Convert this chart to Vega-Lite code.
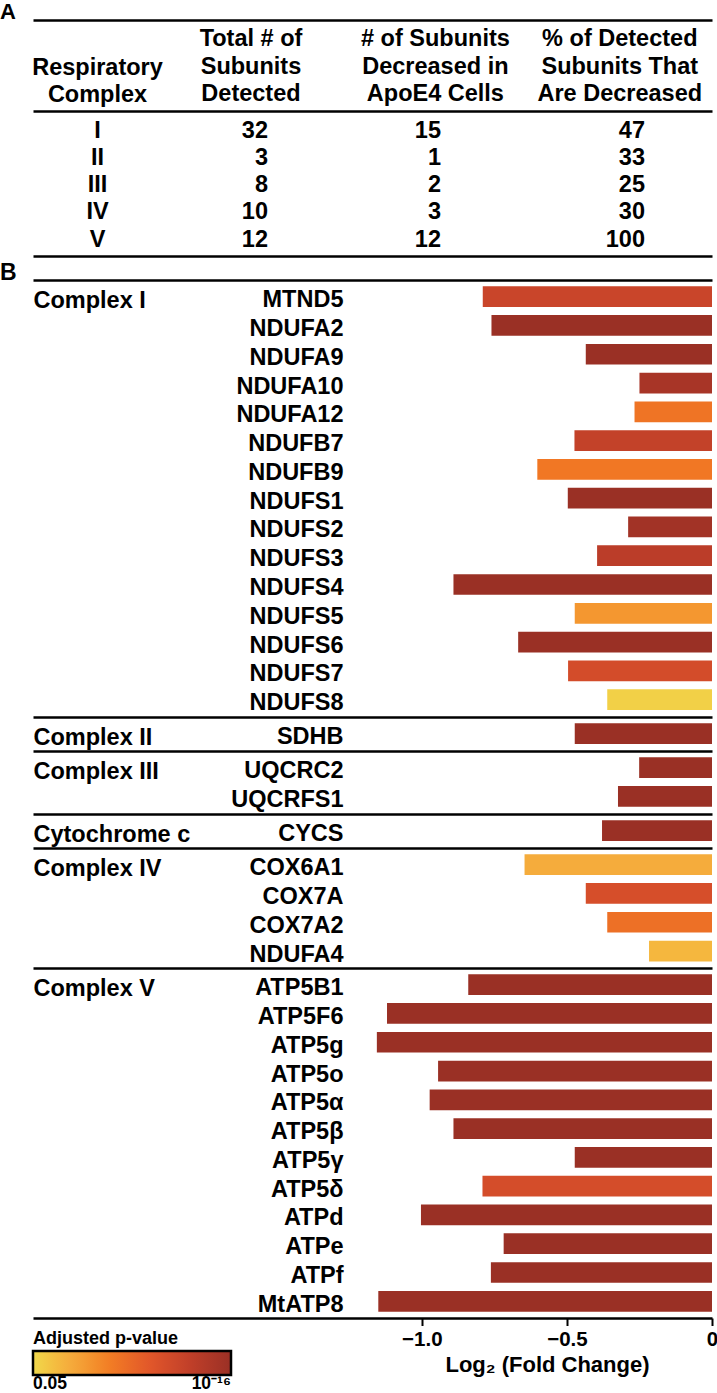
{
  "$schema": "https://vega.github.io/schema/vega-lite/v6.json",
  "background": "white",
  "padding": {"left": 0, "top": 1, "right": 0, "bottom": 0},
  "config": {
    "font": "Liberation Sans",
    "view": {"stroke": null},
    "axis": {"grid": false, "labelFont": "Liberation Sans", "titleFont": "Liberation Sans", "labelFontWeight": "bold", "titleFontWeight": "bold", "labelColor": "black", "titleColor": "black", "domainColor": "black", "tickColor": "black"}
  },
  "datasets": {
    "headers": [
      {"col": "total", "header": "Total # of\nSubunits\nDetected"},
      {"col": "decreased", "header": "# of Subunits\nDecreased in\nApoE4 Cells"},
      {"col": "percent", "header": "% of Detected\nSubunits That\nAre Decreased"}
    ],
    "table": [
      {"complex": "I", "total": "32", "decreased": "15", "percent": "47"},
      {"complex": "II", "total": "3", "decreased": "1", "percent": "33"},
      {"complex": "III", "total": "8", "decreased": "2", "percent": "25"},
      {"complex": "IV", "total": "10", "decreased": "3", "percent": "30"},
      {"complex": "V", "total": "12", "decreased": "12", "percent": "100"}
    ],
    "genes": [
      {"complex": "Complex I", "gene": "MTND5", "lfc": -0.79, "nlp": 12.2},
      {"complex": "Complex I", "gene": "NDUFA2", "lfc": -0.76, "nlp": 16},
      {"complex": "Complex I", "gene": "NDUFA9", "lfc": -0.435, "nlp": 16},
      {"complex": "Complex I", "gene": "NDUFA10", "lfc": -0.25, "nlp": 14.9},
      {"complex": "Complex I", "gene": "NDUFA12", "lfc": -0.267, "nlp": 7.7},
      {"complex": "Complex I", "gene": "NDUFB7", "lfc": -0.474, "nlp": 12.7},
      {"complex": "Complex I", "gene": "NDUFB9", "lfc": -0.602, "nlp": 7.4},
      {"complex": "Complex I", "gene": "NDUFS1", "lfc": -0.497, "nlp": 16},
      {"complex": "Complex I", "gene": "NDUFS2", "lfc": -0.289, "nlp": 15.4},
      {"complex": "Complex I", "gene": "NDUFS3", "lfc": -0.396, "nlp": 13.4},
      {"complex": "Complex I", "gene": "NDUFS4", "lfc": -0.891, "nlp": 16},
      {"complex": "Complex I", "gene": "NDUFS5", "lfc": -0.473, "nlp": 5.4},
      {"complex": "Complex I", "gene": "NDUFS6", "lfc": -0.668, "nlp": 16},
      {"complex": "Complex I", "gene": "NDUFS7", "lfc": -0.496, "nlp": 11.3},
      {"complex": "Complex I", "gene": "NDUFS8", "lfc": -0.361, "nlp": 1.8},
      {"complex": "Complex II", "gene": "SDHB", "lfc": -0.473, "nlp": 16},
      {"complex": "Complex III", "gene": "UQCRC2", "lfc": -0.251, "nlp": 16},
      {"complex": "Complex III", "gene": "UQCRFS1", "lfc": -0.324, "nlp": 16},
      {"complex": "Cytochrome c", "gene": "CYCS", "lfc": -0.379, "nlp": 16},
      {"complex": "Complex IV", "gene": "COX6A1", "lfc": -0.646, "nlp": 4.0},
      {"complex": "Complex IV", "gene": "COX7A", "lfc": -0.435, "nlp": 11.0},
      {"complex": "Complex IV", "gene": "COX7A2", "lfc": -0.361, "nlp": 8.0},
      {"complex": "Complex IV", "gene": "NDUFA4", "lfc": -0.217, "nlp": 3.3},
      {"complex": "Complex V", "gene": "ATP5B1", "lfc": -0.84, "nlp": 16},
      {"complex": "Complex V", "gene": "ATP5F6", "lfc": -1.12, "nlp": 16},
      {"complex": "Complex V", "gene": "ATP5g", "lfc": -1.155, "nlp": 16},
      {"complex": "Complex V", "gene": "ATP5o", "lfc": -0.944, "nlp": 16},
      {"complex": "Complex V", "gene": "ATP5α", "lfc": -0.973, "nlp": 16},
      {"complex": "Complex V", "gene": "ATP5β", "lfc": -0.891, "nlp": 16},
      {"complex": "Complex V", "gene": "ATP5γ", "lfc": -0.473, "nlp": 16},
      {"complex": "Complex V", "gene": "ATP5δ", "lfc": -0.791, "nlp": 11.2},
      {"complex": "Complex V", "gene": "ATPd", "lfc": -1.003, "nlp": 16},
      {"complex": "Complex V", "gene": "ATPe", "lfc": -0.718, "nlp": 16},
      {"complex": "Complex V", "gene": "ATPf", "lfc": -0.762, "nlp": 16},
      {"complex": "Complex V", "gene": "MtATP8", "lfc": -1.15, "nlp": 16}
    ]
  },
  "resolve": {"scale": {"x": "independent", "y": "independent", "color": "independent"}, "legend": {"color": "independent"}, "axis": {"x": "independent", "y": "independent"}},
  "spacing": 0,
  "bounds": "flush",
  "vconcat": [
    {
      "width": 679, "height": 0.01,
      "data": {"values": [{"letter": "A"}]},
      "mark": {"type": "text", "font": "Liberation Sans", "fontWeight": "bold", "fontSize": 22, "baseline": "alphabetic", "align": "left", "color": "black", "dx": -33, "dy": -1},
      "encoding": {
        "x": {"datum": -2.34, "type": "quantitative", "scale": {"domain": [-2.34, 0], "nice": false}, "axis": {"orient": "bottom", "labels": false, "ticks": false, "domain": true, "domainWidth": 2.5, "title": null}},
        "text": {"field": "letter", "type": "nominal"}
      }
    },
    {
      "width": 679, "height": 90,
      "data": {"name": "headers"},
      "mark": {"type": "text", "font": "Liberation Sans", "fontWeight": "bold", "fontSize": 23.5, "lineHeight": 27.5, "lineBreak": "\n", "baseline": "alphabetic", "align": "center", "color": "black", "dy": -19.7},
      "encoding": {
        "x": {"field": "col", "type": "nominal", "sort": null, "scale": {"type": "band", "domain": ["total", "decreased", "percent"], "paddingInner": 0, "paddingOuter": 0.341, "align": 1}, "axis": null},
        "text": {"field": "header", "type": "nominal"}
      }
    },
    {
      "width": 679, "height": {"step": 27.23},
      "data": {"name": "table"},
      "encoding": {
        "y": {"field": "complex", "type": "nominal", "sort": null, "scale": {"type": "band", "paddingInner": 0, "paddingOuter": 0.15},
          "axis": {"orient": "left", "offset": -64, "domain": false, "ticks": false, "tickSize": 0, "labelPadding": 0, "labelAlign": "center", "labelBaseline": "middle", "labelOffset": 2, "labelFontSize": 23.5,
            "title": ["Respiratory", "Complex"], "titleAngle": 0, "titleAlign": "center", "titleBaseline": "alphabetic", "titleX": 0, "titleY": -36.7, "titleFontSize": 23.5, "titleLineHeight": 27.5}}
      },
      "layer": [
        {
          "mark": {"type": "text", "font": "Liberation Sans", "fontWeight": "bold", "fontSize": 23.5, "baseline": "middle", "align": "right", "color": "black", "dx": 17, "dy": 2},
          "encoding": {
            "x": {"datum": "total", "type": "nominal", "scale": {"type": "band", "domain": ["total", "decreased", "percent"], "paddingInner": 0, "paddingOuter": 0.341, "align": 1}, "axis": {"orient": "top", "labels": false, "ticks": false, "domain": true, "domainWidth": 2.5, "title": null}},
            "text": {"field": "total", "type": "nominal"}
          }
        },
        {
          "mark": {"type": "text", "font": "Liberation Sans", "fontWeight": "bold", "fontSize": 23.5, "baseline": "middle", "align": "right", "color": "black", "dx": 5.6, "dy": 2},
          "encoding": {
            "x": {"datum": "decreased", "type": "nominal"},
            "text": {"field": "decreased", "type": "nominal"}
          }
        },
        {
          "mark": {"type": "text", "font": "Liberation Sans", "fontWeight": "bold", "fontSize": 23.5, "baseline": "middle", "align": "right", "color": "black", "dx": 25.2, "dy": 2},
          "encoding": {
            "x": {"datum": "percent", "type": "nominal"},
            "text": {"field": "percent", "type": "nominal"}
          }
        }
      ]
    },
    {
      "width": 679, "height": 24,
      "data": {"values": [{"letter": "B"}]},
      "mark": {"type": "text", "font": "Liberation Sans", "fontWeight": "bold", "fontSize": 23, "baseline": "alphabetic", "align": "left", "color": "black", "dx": -33, "dy": 12},
      "encoding": {
        "x": {"datum": -2.34, "type": "quantitative", "scale": {"domain": [-2.34, 0], "nice": false}, "axis": {"orient": "top", "labels": false, "ticks": false, "domainWidth": 2.5, "title": null}},
        "text": {"field": "letter", "type": "nominal"}
      }
    },
    {
      "width": 679, "height": {"step": 28.78},
      "data": {"name": "genes"},
      "transform": [{"filter": "datum.complex === 'Complex I'"}],
      "mark": {"type": "bar"},
      "encoding": {
        "y": {"field": "gene", "type": "nominal", "sort": null, "scale": {"paddingInner": 0.28, "paddingOuter": 0.22},
          "axis": {"orient": "left", "offset": -310, "domain": false, "ticks": false, "tickSize": 0, "labelPadding": 0, "labelAlign": "right", "labelBaseline": "alphabetic", "labelOffset": 10.5, "labelFontSize": 23.5, "labelLimit": 0,
            "title": "Complex I", "titleAngle": 0, "titleAlign": "left", "titleBaseline": "alphabetic", "titleX": -310, "titleY": 27.2, "titleFontSize": 23.5}},
        "x": {"field": "lfc", "type": "quantitative", "scale": {"domain": [-2.34, 0], "nice": false}, "axis": {"orient": "top", "labels": false, "ticks": false, "domainWidth": 2.5, "title": null}},
        "color": {"field": "nlp", "type": "quantitative", "scale": {"domain": [1.3, 4.24, 7.18, 10.12, 13.06, 16], "range": ["#f0d84c", "#f5a83c", "#f27a24", "#e0552a", "#bf3f29", "#9a3025"]}, "legend": null}
      }
    },
    {
      "width": 679, "height": {"step": 28.78},
      "data": {"name": "genes"},
      "transform": [{"filter": "datum.complex === 'Complex II'"}],
      "mark": {"type": "bar"},
      "encoding": {
        "y": {"field": "gene", "type": "nominal", "sort": null, "scale": {"paddingInner": 0.28, "paddingOuter": 0.22},
          "axis": {"orient": "left", "offset": -310, "domain": false, "ticks": false, "tickSize": 0, "labelPadding": 0, "labelAlign": "right", "labelBaseline": "alphabetic", "labelOffset": 10.5, "labelFontSize": 23.5, "labelLimit": 0,
            "title": "Complex II", "titleAngle": 0, "titleAlign": "left", "titleBaseline": "alphabetic", "titleX": -310, "titleY": 27.2, "titleFontSize": 23.5}},
        "x": {"field": "lfc", "type": "quantitative", "scale": {"domain": [-2.34, 0], "nice": false}, "axis": {"orient": "top", "labels": false, "ticks": false, "domainWidth": 2.5, "title": null}},
        "color": {"field": "nlp", "type": "quantitative", "scale": {"domain": [1.3, 4.24, 7.18, 10.12, 13.06, 16], "range": ["#f0d84c", "#f5a83c", "#f27a24", "#e0552a", "#bf3f29", "#9a3025"]}, "legend": null}
      }
    },
    {
      "width": 679, "height": {"step": 28.78},
      "data": {"name": "genes"},
      "transform": [{"filter": "datum.complex === 'Complex III'"}],
      "mark": {"type": "bar"},
      "encoding": {
        "y": {"field": "gene", "type": "nominal", "sort": null, "scale": {"paddingInner": 0.28, "paddingOuter": 0.22},
          "axis": {"orient": "left", "offset": -310, "domain": false, "ticks": false, "tickSize": 0, "labelPadding": 0, "labelAlign": "right", "labelBaseline": "alphabetic", "labelOffset": 10.5, "labelFontSize": 23.5, "labelLimit": 0,
            "title": "Complex III", "titleAngle": 0, "titleAlign": "left", "titleBaseline": "alphabetic", "titleX": -310, "titleY": 27.2, "titleFontSize": 23.5}},
        "x": {"field": "lfc", "type": "quantitative", "scale": {"domain": [-2.34, 0], "nice": false}, "axis": {"orient": "top", "labels": false, "ticks": false, "domainWidth": 2.5, "title": null}},
        "color": {"field": "nlp", "type": "quantitative", "scale": {"domain": [1.3, 4.24, 7.18, 10.12, 13.06, 16], "range": ["#f0d84c", "#f5a83c", "#f27a24", "#e0552a", "#bf3f29", "#9a3025"]}, "legend": null}
      }
    },
    {
      "width": 679, "height": {"step": 28.78},
      "data": {"name": "genes"},
      "transform": [{"filter": "datum.complex === 'Cytochrome c'"}],
      "mark": {"type": "bar"},
      "encoding": {
        "y": {"field": "gene", "type": "nominal", "sort": null, "scale": {"paddingInner": 0.28, "paddingOuter": 0.22},
          "axis": {"orient": "left", "offset": -310, "domain": false, "ticks": false, "tickSize": 0, "labelPadding": 0, "labelAlign": "right", "labelBaseline": "alphabetic", "labelOffset": 10.5, "labelFontSize": 23.5, "labelLimit": 0,
            "title": "Cytochrome c", "titleAngle": 0, "titleAlign": "left", "titleBaseline": "alphabetic", "titleX": -310, "titleY": 27.2, "titleFontSize": 23.5}},
        "x": {"field": "lfc", "type": "quantitative", "scale": {"domain": [-2.34, 0], "nice": false}, "axis": {"orient": "top", "labels": false, "ticks": false, "domainWidth": 2.5, "title": null}},
        "color": {"field": "nlp", "type": "quantitative", "scale": {"domain": [1.3, 4.24, 7.18, 10.12, 13.06, 16], "range": ["#f0d84c", "#f5a83c", "#f27a24", "#e0552a", "#bf3f29", "#9a3025"]}, "legend": null}
      }
    },
    {
      "width": 679, "height": {"step": 28.78},
      "data": {"name": "genes"},
      "transform": [{"filter": "datum.complex === 'Complex IV'"}],
      "mark": {"type": "bar"},
      "encoding": {
        "y": {"field": "gene", "type": "nominal", "sort": null, "scale": {"paddingInner": 0.28, "paddingOuter": 0.22},
          "axis": {"orient": "left", "offset": -310, "domain": false, "ticks": false, "tickSize": 0, "labelPadding": 0, "labelAlign": "right", "labelBaseline": "alphabetic", "labelOffset": 10.5, "labelFontSize": 23.5, "labelLimit": 0,
            "title": "Complex IV", "titleAngle": 0, "titleAlign": "left", "titleBaseline": "alphabetic", "titleX": -310, "titleY": 27.2, "titleFontSize": 23.5}},
        "x": {"field": "lfc", "type": "quantitative", "scale": {"domain": [-2.34, 0], "nice": false}, "axis": {"orient": "top", "labels": false, "ticks": false, "domainWidth": 2.5, "title": null}},
        "color": {"field": "nlp", "type": "quantitative", "scale": {"domain": [1.3, 4.24, 7.18, 10.12, 13.06, 16], "range": ["#f0d84c", "#f5a83c", "#f27a24", "#e0552a", "#bf3f29", "#9a3025"]}, "legend": null}
      }
    },
    {
      "width": 679, "height": {"step": 28.78},
      "data": {"name": "genes"},
      "transform": [{"filter": "datum.complex === 'Complex V'"}],
      "mark": {"type": "bar"},
      "encoding": {
        "y": {"field": "gene", "type": "nominal", "sort": null, "scale": {"paddingInner": 0.28, "paddingOuter": 0.22},
          "axis": {"orient": "left", "offset": -310, "domain": false, "ticks": false, "tickSize": 0, "labelPadding": 0, "labelAlign": "right", "labelBaseline": "alphabetic", "labelOffset": 10.5, "labelFontSize": 23.5, "labelLimit": 0,
            "title": "Complex V", "titleAngle": 0, "titleAlign": "left", "titleBaseline": "alphabetic", "titleX": -310, "titleY": 27.2, "titleFontSize": 23.5}},
        "x": {"field": "lfc", "type": "quantitative", "scale": {"domain": [-2.34, 0], "nice": false}, "axis": {"orient": "top", "labels": false, "ticks": false, "domainWidth": 2.5, "title": null}},
        "color": {"field": "nlp", "type": "quantitative", "scale": {"domain": [1.3, 4.24, 7.18, 10.12, 13.06, 16], "range": ["#f0d84c", "#f5a83c", "#f27a24", "#e0552a", "#bf3f29", "#9a3025"]},
          "legend": {"orient": "none", "legendX": 0, "legendY": 362, "direction": "horizontal", "title": "Adjusted p-value", "values": [1.3, 16], "labelExpr": "datum.value < 2 ? '0.05' : '10⁻¹⁶'", "gradientLength": 198, "gradientThickness": 24, "gradientStrokeColor": "black", "gradientStrokeWidth": 2.5, "titleFontSize": 18, "labelFontSize": 17.5, "titleFontWeight": "bold", "labelFontWeight": "bold", "titleColor": "black", "labelColor": "black", "titleFont": "Liberation Sans", "labelFont": "Liberation Sans", "titlePadding": 3, "labelOffset": 0, "padding": 0, "titleAnchor": "start", "titleAlign": "left"}}
      }
    },
    {
      "width": 679, "height": 0.01,
      "data": {"values": []},
      "mark": "point",
      "encoding": {
        "x": {"field": "v", "type": "quantitative", "scale": {"domain": [-2.34, 0], "nice": false},
          "axis": {"orient": "bottom", "values": [-1, -0.5, 0], "labelExpr": "datum.value == 0 ? '0' : format(datum.value, '.1f')", "labelFlush": false, "labelOverlap": false, "tickSize": 7.5, "tickWidth": 2, "domainWidth": 2.5, "labelPadding": 4, "labelFontSize": 20.5,
            "title": "Log₂ (Fold Change)", "titleFontSize": 22, "titleX": 514, "titleY": 53, "titleAlign": "center", "titleBaseline": "alphabetic"}}
      }
    }
  ]
}
